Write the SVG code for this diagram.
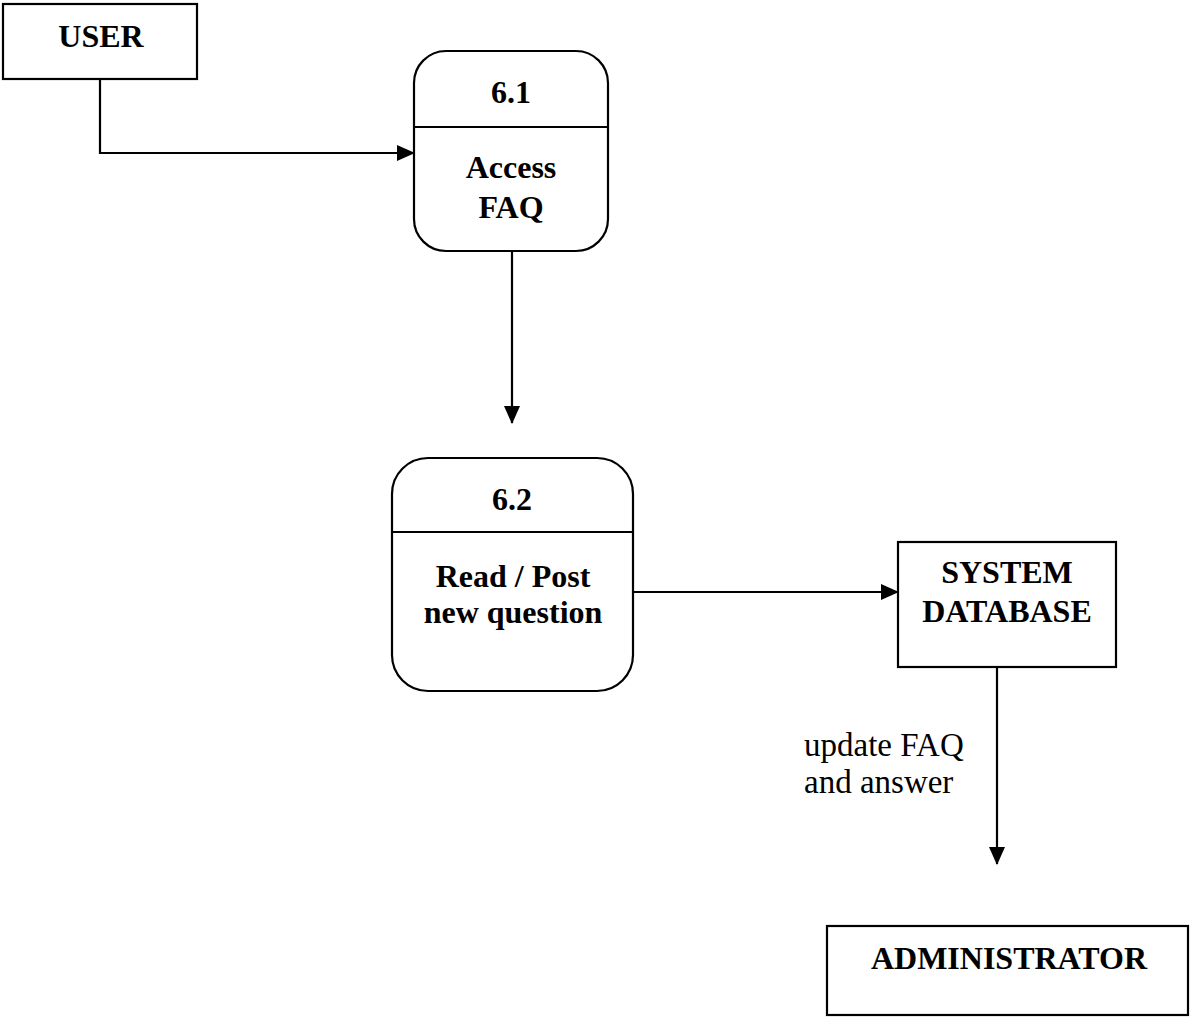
<svg xmlns="http://www.w3.org/2000/svg" width="1190" height="1017" viewBox="0 0 1190 1017">
<style>
.box{fill:#fff;stroke:#000;stroke-width:2.2}
.line{fill:none;stroke:#000;stroke-width:2.2}
.b{font-family:"Liberation Serif","Times New Roman",serif;font-weight:bold;font-size:32px;text-anchor:middle;fill:#000}
.n{font-family:"Liberation Serif","Times New Roman",serif;font-size:33px;fill:#000}
</style>
<defs>
<marker id="arr" markerWidth="18" markerHeight="16" refX="17" refY="8" orient="auto" markerUnits="userSpaceOnUse">
<path d="M0,0 L18,8 L0,16 Z" fill="#000"/>
</marker>
</defs>
<rect width="1190" height="1017" fill="#fff"/>
<g id="connectors">
<path class="line" d="M100,79 V153 H414" marker-end="url(#arr)"/>
<path class="line" d="M512,251 V423" marker-end="url(#arr)"/>
<path class="line" d="M633,592 H898" marker-end="url(#arr)"/>
<path class="line" d="M997,667 V864" marker-end="url(#arr)"/>
<text class="n" x="804" y="756">update FAQ</text>
<text class="n" x="804" y="793">and answer</text>
</g>
<g id="user">
<rect class="box" x="3" y="4" width="194" height="75"/>
<text class="b" x="101" y="47">USER</text>
</g>
<g id="p61">
<rect class="box" x="414" y="51" width="194" height="200" rx="32"/>
<line class="line" x1="414" y1="127" x2="608" y2="127"/>
<text class="b" x="511" y="103">6.1</text>
<text class="b" x="511" y="178">Access</text>
<text class="b" x="511" y="218">FAQ</text>
</g>
<g id="p62">
<rect class="box" x="392" y="458" width="241" height="233" rx="36"/>
<line class="line" x1="392" y1="532" x2="633" y2="532"/>
<text class="b" x="512" y="510">6.2</text>
<text class="b" x="513" y="587">Read / Post</text>
<text class="b" x="513" y="623">new question</text>
</g>
<g id="sysdb">
<rect class="box" x="898" y="542" width="218" height="125"/>
<text class="b" x="1007" y="583">SYSTEM</text>
<text class="b" x="1007" y="622">DATABASE</text>
</g>
<g id="admin">
<rect class="box" x="827" y="926" width="361" height="89"/>
<text class="b" x="1009" y="969">ADMINISTRATOR</text>
</g>
</svg>
